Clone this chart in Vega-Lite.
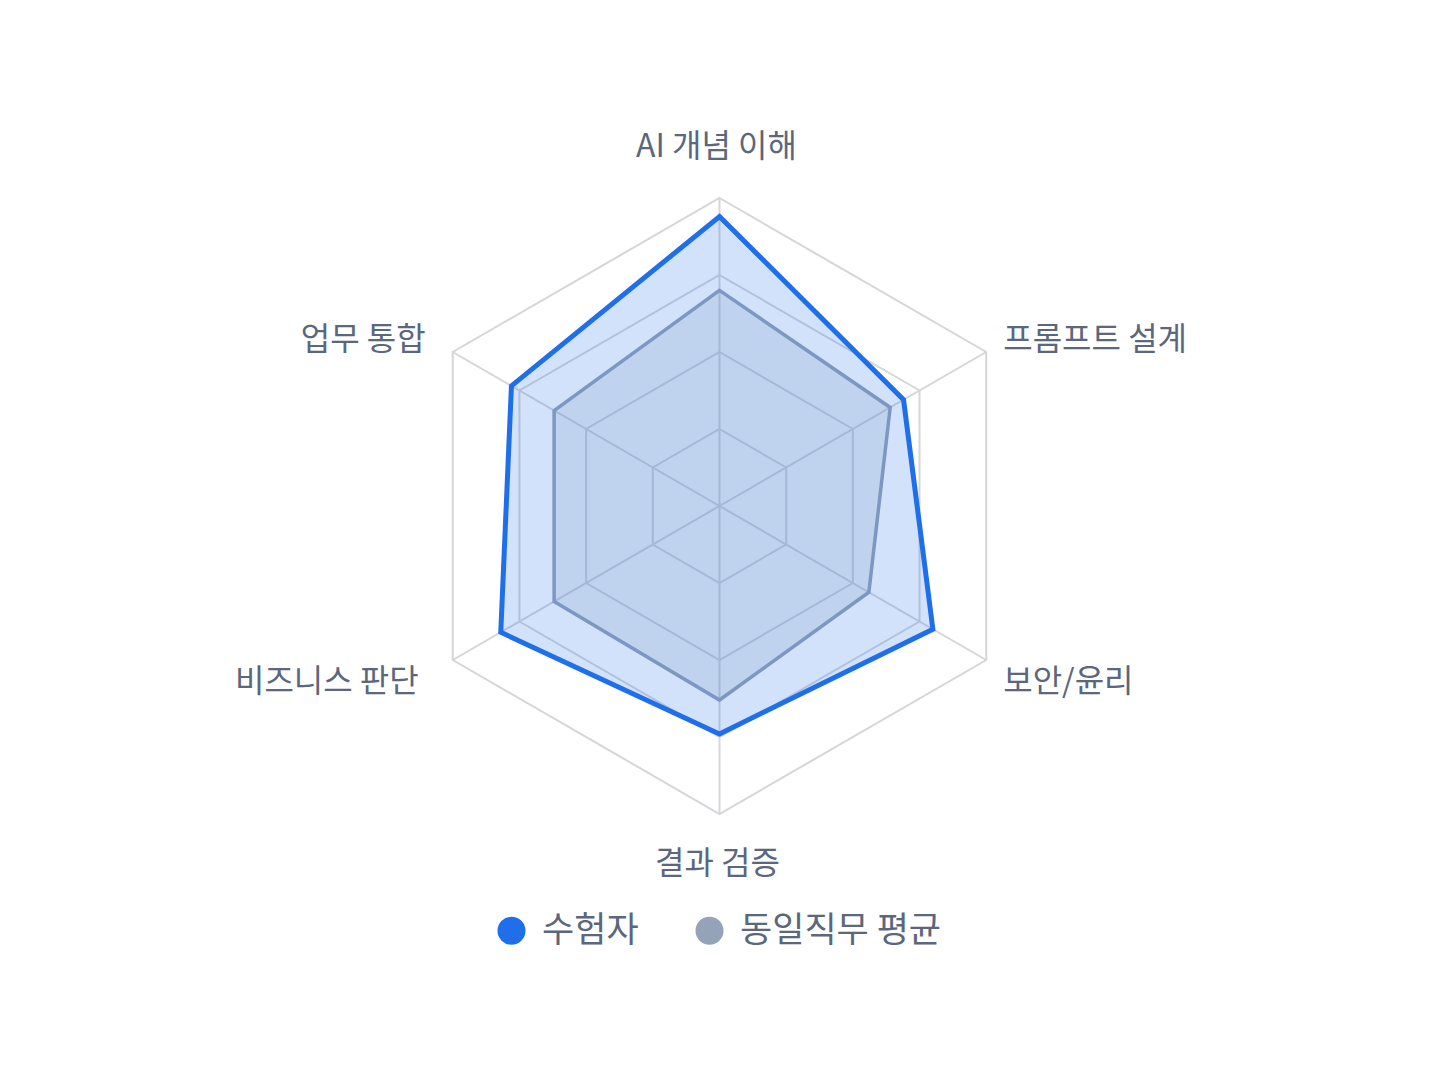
{
  "$schema": "https://vega.github.io/schema/vega-lite/v6.json",
  "width": 1440,
  "height": 1074,
  "padding": 0,
  "autosize": {"type": "none"},
  "background": "white",
  "config": {"view": {"stroke": null}, "font": "Noto Sans CJK KR"},
  "data": {
    "values": [
      {"kind": "axis", "axis": "AI 개념 이해", "idx": 0, "value": 100},
      {"kind": "axis", "axis": "프롬프트 설계", "idx": 1, "value": 100},
      {"kind": "axis", "axis": "보안/윤리", "idx": 2, "value": 100},
      {"kind": "axis", "axis": "결과 검증", "idx": 3, "value": 100},
      {"kind": "axis", "axis": "비즈니스 판단", "idx": 4, "value": 100},
      {"kind": "axis", "axis": "업무 통합", "idx": 5, "value": 100},

      {"kind": "grid", "idx": 0, "value": 25},
      {"kind": "grid", "idx": 1, "value": 25},
      {"kind": "grid", "idx": 2, "value": 25},
      {"kind": "grid", "idx": 3, "value": 25},
      {"kind": "grid", "idx": 4, "value": 25},
      {"kind": "grid", "idx": 5, "value": 25},
      {"kind": "grid", "idx": 0, "value": 50},
      {"kind": "grid", "idx": 1, "value": 50},
      {"kind": "grid", "idx": 2, "value": 50},
      {"kind": "grid", "idx": 3, "value": 50},
      {"kind": "grid", "idx": 4, "value": 50},
      {"kind": "grid", "idx": 5, "value": 50},
      {"kind": "grid", "idx": 0, "value": 75},
      {"kind": "grid", "idx": 1, "value": 75},
      {"kind": "grid", "idx": 2, "value": 75},
      {"kind": "grid", "idx": 3, "value": 75},
      {"kind": "grid", "idx": 4, "value": 75},
      {"kind": "grid", "idx": 5, "value": 75},
      {"kind": "grid", "idx": 0, "value": 100},
      {"kind": "grid", "idx": 1, "value": 100},
      {"kind": "grid", "idx": 2, "value": 100},
      {"kind": "grid", "idx": 3, "value": 100},
      {"kind": "grid", "idx": 4, "value": 100},
      {"kind": "grid", "idx": 5, "value": 100},

      {"kind": "series", "series": "수험자", "axis": "AI 개념 이해", "idx": 0, "value": 94},
      {"kind": "series", "series": "수험자", "axis": "프롬프트 설계", "idx": 1, "value": 69},
      {"kind": "series", "series": "수험자", "axis": "보안/윤리", "idx": 2, "value": 80},
      {"kind": "series", "series": "수험자", "axis": "결과 검증", "idx": 3, "value": 74},
      {"kind": "series", "series": "수험자", "axis": "비즈니스 판단", "idx": 4, "value": 82},
      {"kind": "series", "series": "수험자", "axis": "업무 통합", "idx": 5, "value": 78},
      {"kind": "series", "series": "동일직무 평균", "axis": "AI 개념 이해", "idx": 0, "value": 70},
      {"kind": "series", "series": "동일직무 평균", "axis": "프롬프트 설계", "idx": 1, "value": 64},
      {"kind": "series", "series": "동일직무 평균", "axis": "보안/윤리", "idx": 2, "value": 56},
      {"kind": "series", "series": "동일직무 평균", "axis": "결과 검증", "idx": 3, "value": 63},
      {"kind": "series", "series": "동일직무 평균", "axis": "비즈니스 판단", "idx": 4, "value": 62},
      {"kind": "series", "series": "동일직무 평균", "axis": "업무 통합", "idx": 5, "value": 62}
    ]
  },
  "transform": [
    {"calculate": "(datum.idx * 60 - 90) * PI / 180", "as": "ang"},
    {"calculate": "datum.value * cos(datum.ang)", "as": "x"},
    {"calculate": "-datum.value * sin(datum.ang)", "as": "y"}
  ],
  "encoding": {
    "x": {
      "field": "x",
      "type": "quantitative",
      "axis": null,
      "scale": {"domain": [-233.6, 233.93], "nice": false, "zero": false}
    },
    "y": {
      "field": "y",
      "type": "quantitative",
      "axis": null,
      "scale": {"domain": [-184.42, 164.29], "nice": false, "zero": false}
    }
  },
  "layer": [
    {
      "transform": [{"filter": "datum.kind === 'axis'"}],
      "mark": {"type": "rule", "color": "#d6d6da", "strokeWidth": 2},
      "encoding": {"x2": {"datum": 0}, "y2": {"datum": 0}}
    },
    {
      "transform": [{"filter": "datum.kind === 'grid'"}],
      "mark": {"type": "line", "interpolate": "linear-closed", "color": "#d6d6da", "strokeWidth": 2},
      "encoding": {
        "detail": {"field": "value", "type": "nominal"},
        "order": {"field": "idx", "type": "quantitative"}
      }
    },
    {
      "transform": [{"filter": "datum.kind === 'series' && datum.series === '동일직무 평균'"}],
      "mark": {
        "type": "line",
        "interpolate": "linear-closed",
        "stroke": "#94a3b8",
        "fill": "#94a3b8",
        "fillOpacity": 0.22,
        "strokeWidth": 3.5,
        "strokeJoin": "miter"
      },
      "encoding": {
        "order": {"field": "idx", "type": "quantitative"}
      }
    },
    {
      "transform": [{"filter": "datum.kind === 'series' && datum.series === '수험자'"}],
      "mark": {
        "type": "line",
        "interpolate": "linear-closed",
        "stroke": "#1e6fe9",
        "fill": "#1e6fe9",
        "fillOpacity": 0.2,
        "strokeWidth": 5,
        "strokeJoin": "miter"
      },
      "encoding": {
        "order": {"field": "idx", "type": "quantitative"}
      }
    },
    {
      "transform": [{"filter": "datum.kind === 'series' && datum.idx === 0"}],
      "mark": {"type": "point", "filled": true, "opacity": 1, "size": 0},
      "encoding": {
        "color": {
          "field": "series",
          "type": "nominal",
          "scale": {"domain": ["수험자", "동일직무 평균"], "range": ["#1e6fe9", "#94a3b8"]},
          "legend": {
            "orient": "none",
            "legendX": 494,
            "legendY": 913,
            "direction": "horizontal",
            "title": null,
            "symbolType": "circle",
            "symbolSize": 784,
            "symbolOpacity": 1,
            "symbolStrokeWidth": 0,
            "labelFont": "Noto Sans CJK KR",
            "labelFontSize": 35,
            "labelColor": "#5a677c",
            "labelLimit": 500,
            "labelOffset": 13,
            "columnPadding": 53
          }
        }
      }
    },
    {
      "transform": [{"filter": "datum.kind === 'axis' && datum.idx === 0"}],
      "mark": {"type": "text", "align": "center", "baseline": "middle", "dx": -3, "dy": -51, "fontSize": 32, "color": "#5a677c"},
      "encoding": {"text": {"field": "axis"}}
    },
    {
      "transform": [{"filter": "datum.kind === 'axis' && datum.idx === 1"}],
      "mark": {"type": "text", "align": "left", "baseline": "middle", "dx": 17, "dy": -12, "fontSize": 32, "color": "#5a677c"},
      "encoding": {"text": {"field": "axis"}}
    },
    {
      "transform": [{"filter": "datum.kind === 'axis' && datum.idx === 2"}],
      "mark": {"type": "text", "align": "left", "baseline": "middle", "dx": 17, "dy": 22, "fontSize": 32, "color": "#5a677c"},
      "encoding": {"text": {"field": "axis"}}
    },
    {
      "transform": [{"filter": "datum.kind === 'axis' && datum.idx === 3"}],
      "mark": {"type": "text", "align": "center", "baseline": "middle", "dx": -2, "dy": 50, "fontSize": 32, "color": "#5a677c"},
      "encoding": {"text": {"field": "axis"}}
    },
    {
      "transform": [{"filter": "datum.kind === 'axis' && datum.idx === 4"}],
      "mark": {"type": "text", "align": "right", "baseline": "middle", "dx": -34, "dy": 22, "fontSize": 32, "color": "#5a677c"},
      "encoding": {"text": {"field": "axis"}}
    },
    {
      "transform": [{"filter": "datum.kind === 'axis' && datum.idx === 5"}],
      "mark": {"type": "text", "align": "right", "baseline": "middle", "dx": -27, "dy": -12, "fontSize": 32, "color": "#5a677c"},
      "encoding": {"text": {"field": "axis"}}
    }
  ]
}
